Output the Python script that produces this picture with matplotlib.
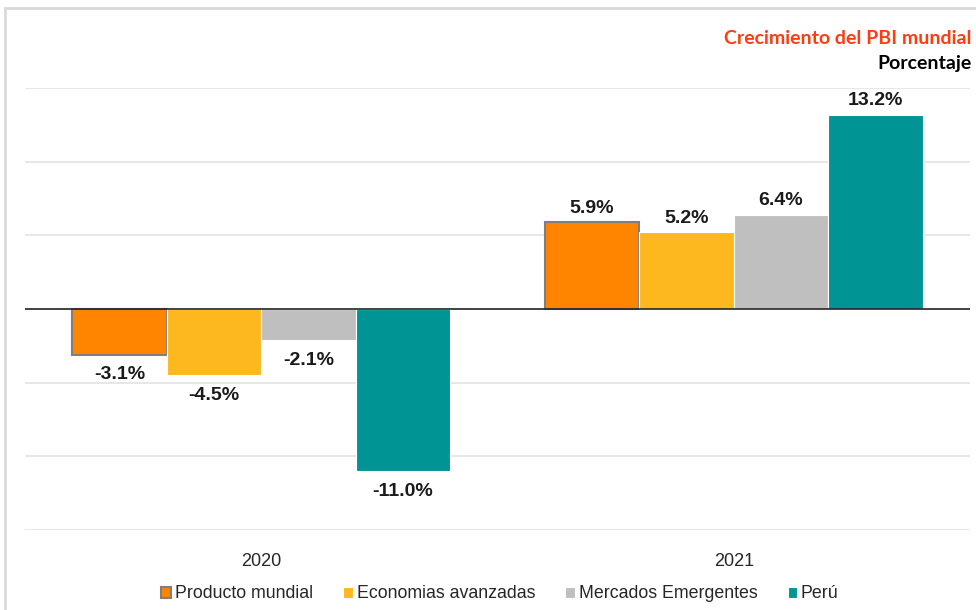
import numpy as np
import matplotlib.pyplot as plt
from matplotlib.patches import Rectangle

years = ["2020", "2021"]
series = ["Producto mundial", "Economias avanzadas", "Mercados Emergentes", "Perú"]
producto = [-3.1, 5.9]
avanzadas = [-4.5, 5.2]
emergentes = [-2.1, 6.4]
peru = [-11.0, 13.2]
values = [producto, avanzadas, emergentes, peru]
colors = ["#FF8400", "#FDB71F", "#BFBFBF", "#009494"]
edges = ["#7F7F7F", "white", "white", "white"]

plt.rcParams['font.family'] = ['Liberation Sans', 'DejaVu Sans']

fig = plt.figure(figsize=(9.76, 6.10), dpi=100)
ax = fig.add_axes([25/976, 80/610, 945/976, 442/610])

xs = np.arange(len(years))
w = 0.2
for i, (name, vals) in enumerate(zip(series, values)):
  pos = xs + (i - 1.5) * w
  lw = 1.5 if i == 0 else 0.8
  ax.bar(pos, vals, w, color=colors[i], edgecolor=edges[i], linewidth=lw, label=name, zorder=3)
  for x, v in zip(pos, vals):
    off = 4 if v > 0 else -8.5
    ax.annotate(f"{v:.1f}%", (x, v), xytext=(0, off), textcoords="offset points",
                ha="center", va="bottom" if v > 0 else "top",
                fontsize=14, fontweight="bold", color="#1a1a1a")

ax.set_xlim(-0.5, 1.5)
ax.set_ylim(-15, 15)
ax.set_yticks(np.arange(-15, 16, 5))
ax.yaxis.grid(True, color="#E3E3E3", linewidth=1.2, zorder=0)
ax.axhline(0, color="#262626", linewidth=1.2, zorder=4)
ax.tick_params(axis="y", left=False, labelleft=False)
ax.tick_params(axis="x", bottom=False, labelsize=13, colors="#262626", pad=13)
ax.set_xticks(xs)
ax.set_xticklabels(years)
for s in ax.spines.values():
  s.set_visible(False)

fig.legend(loc="center", bbox_to_anchor=(500/976, 1 - 594/610), ncol=4, frameon=False,
           fontsize=12.8, handlelength=0.55, handleheight=0.55, handletextpad=0.2,
           columnspacing=1.7, labelcolor="#262626")

fig.text(972/976, 1 - 39/610, "Crecimiento del PBI mundial", ha="right", va="center",
         fontsize=14, fontweight="bold", color="#FF3B0F", family=["Lato", "DejaVu Sans"])
fig.text(972/976, 1 - 63/610, "Porcentaje", ha="right", va="center",
         fontsize=14, fontweight="bold", color="black", family=["Lato", "DejaVu Sans"])

fig.patches.append(Rectangle((5/976, -0.1), 1.2, 1 - 8/610 + 0.1, transform=fig.transFigure,
                             fill=False, edgecolor="#D9D9D9", linewidth=2))

fig.savefig("out.png", dpi=100)
